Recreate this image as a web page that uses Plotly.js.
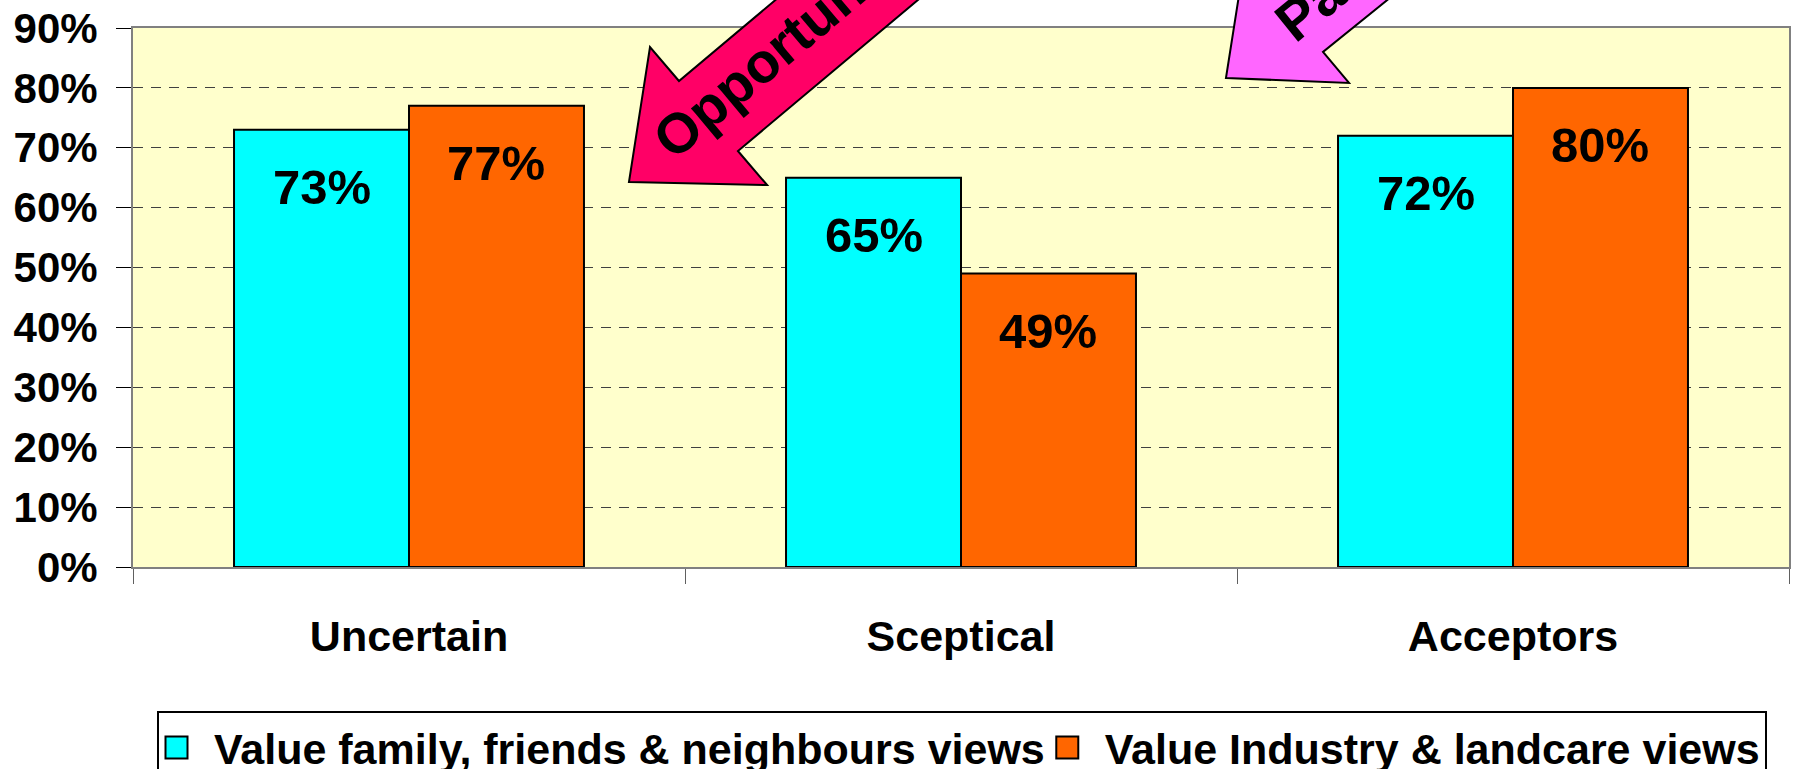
<!DOCTYPE html>
<html>
<head>
<meta charset="utf-8">
<script src="https://cdn.plot.ly/plotly-3.0.1.min.js"></script>
<style>html,body{margin:0;padding:0;background:#fff;}#chart{width:1793px;height:769px;}</style>
</head>
<body>
<div id="chart"></div>
<script>
// ---- data ----
const categories = ['Uncertain', 'Sceptical', 'Acceptors'];
const familyViews = [73, 65, 72];
const industryViews = [77, 49, 80];
const seriesNames = ['Value family, friends & neighbours views', 'Value Industry & landcare views'];
const yTickValues = [0, 10, 20, 30, 40, 50, 60, 70, 80, 90];
const yTickLabels = ['0%', '10%', '20%', '30%', '40%', '50%', '60%', '70%', '80%', '90%'];
const arrowLabels = ['Opportunity', 'Partners'];

// ---- layout geometry (pixels) ----
const W = 1793, H = 769;
const M = {l: 133, r: 4, t: 28, b: 202};
const PW = W - M.l - M.r, PH = H - M.t - M.b;
const px = v => (v - M.l) / PW;
const py = v => (H - M.b - v) / PH;
const FONT = 'Liberation Sans, Arial, Helvetica, sans-serif';

function pathFrom(points) {
  return points.map((p, i) => (i ? 'L' : 'M') + px(p[0]).toFixed(4) + ',' + py(p[1]).toFixed(4)).join(' ') + ' Z';
}

// arrow outlines (decoration)
const redArrow = [[629,182],[767,185],[738,151],[1006,-74],[947,-144],[679,81],[650,47]];
const pinkArrow = [[1226,78],[1349,83],[1323,52],[1595,-168],[1543,-230],[1271,-10],[1245,-43]];

const colors = ['#00FFFF', '#FF6600'];
const seriesValues = [familyViews, industryViews];

const traces = seriesValues.map((vals, s) => ({
  type: 'bar',
  name: seriesNames[s],
  x: categories,
  y: vals,
  marker: {color: colors[s], line: {color: '#000000', width: 2}},
  hoverinfo: 'x+y'
}));

const annotations = [];
const barHalf = (1 - 0.366) * (PW / categories.length) / 4;
seriesValues.forEach((vals, s) => {
  vals.forEach((v, i) => {
    annotations.push({
      xref: 'x', yref: 'y', x: categories[i], y: v,
      xshift: s === 0 ? -barHalf : barHalf, yshift: -57,
      xanchor: 'center', yanchor: 'middle',
      text: v + '%', showarrow: false,
      font: {family: FONT, size: 49, color: '#000', weight: 'bold'}
    });
  });
});
annotations.push({
  xref: 'paper', yref: 'paper', x: px(784), y: py(44),
  xanchor: 'center', yanchor: 'middle', textangle: -40,
  text: arrowLabels[0], showarrow: false,
  font: {family: FONT, size: 56, color: '#000', weight: 'bold'}
});
annotations.push({
  xref: 'paper', yref: 'paper', x: px(1371), y: py(-42),
  xanchor: 'center', yanchor: 'middle', textangle: -39,
  text: arrowLabels[1], showarrow: false,
  font: {family: FONT, size: 56, color: '#000', weight: 'bold'}
});

const layout = {
  width: W, height: H,
  margin: {l: M.l, r: M.r, t: M.t, b: M.b, autoexpand: false},
  paper_bgcolor: '#FFFFFF',
  plot_bgcolor: '#FFFFCC',
  barmode: 'group',
  bargap: 0.366,
  bargroupgap: 0,
  font: {family: FONT, color: '#000'},
  showlegend: true,
  legend: {
    orientation: 'h',
    x: px(157), xanchor: 'left',
    y: py(711), yanchor: 'top',
    itemwidth: 45,
    bgcolor: '#FFFFFF', bordercolor: '#000000', borderwidth: 2,
    font: {family: FONT, size: 43, color: '#000', weight: 'bold'},
    itemclick: false, itemdoubleclick: false
  },
  xaxis: {
    type: 'category',
    showgrid: false,
    showline: true, linecolor: '#808080', linewidth: 2, mirror: true,
    ticks: 'outside', tickson: 'boundaries', ticklen: 15, tickcolor: '#606060', tickwidth: 1,
    ticklabelstandoff: 30,
    tickfont: {family: FONT, size: 43, color: '#000', weight: 'bold'},
    fixedrange: true
  },
  yaxis: {
    range: [0, 90],
    tickvals: yTickValues, ticktext: yTickLabels,
    showgrid: true, gridcolor: '#404040', gridwidth: 1, griddash: '10px,8px',
    zeroline: false,
    showline: true, linecolor: '#808080', linewidth: 2, mirror: true,
    ticks: 'outside', ticklen: 15, tickcolor: '#000000', tickwidth: 1,
    ticklabelstandoff: 10,
    tickfont: {family: FONT, size: 42, color: '#000', weight: 'bold'},
    fixedrange: true
  },
  shapes: [
    {type: 'path', xref: 'paper', yref: 'paper', path: pathFrom(redArrow), fillcolor: '#FF0066', line: {color: '#000', width: 2}, layer: 'above'},
    {type: 'path', xref: 'paper', yref: 'paper', path: pathFrom(pinkArrow), fillcolor: '#FF66FF', line: {color: '#000', width: 2}, layer: 'above'}
  ],
  annotations: annotations
};

Plotly.newPlot('chart', traces, layout, {displayModeBar: false}).then(gd => {
  // enlarge the legend swatches to match the reference's larger squares
  gd.querySelectorAll('.legend .legendpoints path').forEach(p => {
    p.setAttribute('d', 'M1,11H-21V-11H1Z');
  });
});
</script>
</body>
</html>
